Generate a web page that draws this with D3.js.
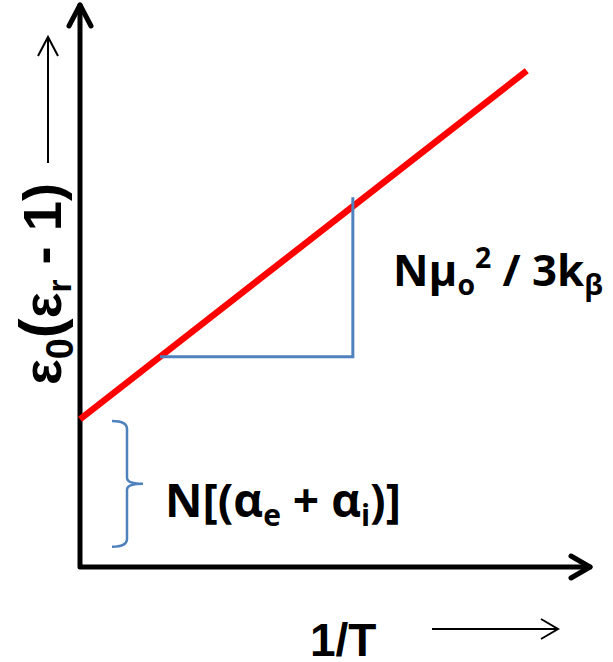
<!DOCTYPE html>
<html>
<head>
<script src="https://d3js.org/d3.v7.min.js"></script>
<style>
  body { margin: 0; background: #fff; }
  svg { display: block; }
</style>
</head>
<body>
<svg id="chart" width="613" height="662"></svg>
<script>
// values (axis units are arbitrary 0..10)
const lineX = [0, 8.76];
const lineY = [2.63, 8.83];
const triX = [1.57, 5.35, 5.35];
const triY = [3.74, 3.74, 6.58];
const braceY = [0.36, 2.6];

const svg = d3.select('#chart');
const x = d3.scaleLinear().domain([0, 10]).range([80, 590]);
const y = d3.scaleLinear().domain([0, 10]).range([567, 5]);

// builds a text from parts [text, relative size, relative shift] and fits it to a width
function richText(g, parts, size, width, family) {
  const t = g.attr('font-family', family).attr('font-weight', 'bold');
  const draw = (fs) => {
    t.selectAll('tspan').remove();
    let prev = 0;
    parts.forEach(([txt, rel, shift]) => {
      t.append('tspan').attr('font-size', fs * rel).attr('dy', (shift - prev) * fs).text(txt);
      prev = shift;
    });
  };
  draw(size);
  const w = t.node().getComputedTextLength();
  draw(size * width / w);
  return t;
}

// axes with open arrow heads
const axes = svg.append('g')
  .attr('fill', 'none').attr('stroke', '#000')
  .attr('stroke-linecap', 'round').attr('stroke-linejoin', 'round');
axes.append('path').attr('stroke-width', 5)
  .attr('d', `M${x(0)},${y(0)}V${y(10)}M${x(0)},${y(0)}H${x(10)}`);
axes.append('path').attr('stroke-width', 5)
  .attr('d', `M${x(0) - 11},${y(10) + 21}L${x(0)},${y(10)}L${x(0) + 11},${y(10) + 21}`);
axes.append('path').attr('stroke-width', 5)
  .attr('d', `M${x(10) - 19},${y(0) - 11}L${x(10)},${y(0)}L${x(10) - 19},${y(0) + 11}`);

// red line
svg.append('line')
  .attr('x1', x(lineX[0])).attr('y1', y(lineY[0]))
  .attr('x2', x(lineX[1])).attr('y2', y(lineY[1]))
  .attr('stroke', '#ff0000').attr('stroke-width', 6.5);

// slope triangle
svg.append('path')
  .attr('d', d3.line().x((d, i) => x(triX[i])).y((d, i) => y(triY[i]))(triX))
  .attr('fill', 'none').attr('stroke', '#4f81bd').attr('stroke-width', 3);

// curly brace for the intercept
const bTop = y(braceY[1]), bBot = y(braceY[0]), bMid = (bTop + bBot) / 2;
const bx = 127;
svg.append('path')
  .attr('d', `M${bx - 15},${bTop}Q${bx},${bTop} ${bx},${bTop + 8}V${bMid - 6}Q${bx},${bMid} ${bx + 16},${bMid}` +
             `Q${bx},${bMid} ${bx},${bMid + 6}V${bBot - 8}Q${bx},${bBot} ${bx - 15},${bBot}`)
  .attr('fill', 'none').attr('stroke', '#4f81bd').attr('stroke-width', 2.5);

// y label
const arial = '"Liberation Sans", Arial, sans-serif';
const yl = svg.append('text').attr('transform', 'translate(61,385) rotate(-90)');
richText(yl, [['ε', 1, 0], ['0', 0.7, 0.22], ['(', 1.1, 0], ['ε', 1, 0], ['r', 0.62, 0.18], [' - 1)', 1, 0]],
  48, 202, arial);

// y label arrow
svg.append('path')
  .attr('d', 'M48,163V37M38,56L48,37L58,56')
  .attr('fill', 'none').attr('stroke', '#000').attr('stroke-width', 2);

// x label
svg.append('text')
  .attr('x', 310).attr('y', 656)
  .attr('font-family', arial)
  .attr('font-weight', 'bold').attr('font-size', 46)
  .text('1/T');
svg.append('path')
  .attr('d', 'M432,629H558M541,619L558,629L541,639')
  .attr('fill', 'none').attr('stroke', '#000').attr('stroke-width', 2);

// slope annotation
const sans = '"Open Sans", sans-serif';
const s = svg.append('text').attr('x', 393).attr('y', 286);
richText(s, [['Nμ', 1, 0], ['o', 0.65, 0.2], ['2', 0.65, -0.42], [' / 3k', 1, 0], ['β', 0.65, 0.2]],
  42, 210, sans);

// intercept annotation
const n = svg.append('text').attr('x', 165).attr('y', 517);
richText(n, [['N[(α', 1, 0], ['e', 0.65, 0.2], [' + α', 1, 0], ['i', 0.65, 0.2], [')]', 1, 0]],
  52, 236, sans);
</script>
</body>
</html>
